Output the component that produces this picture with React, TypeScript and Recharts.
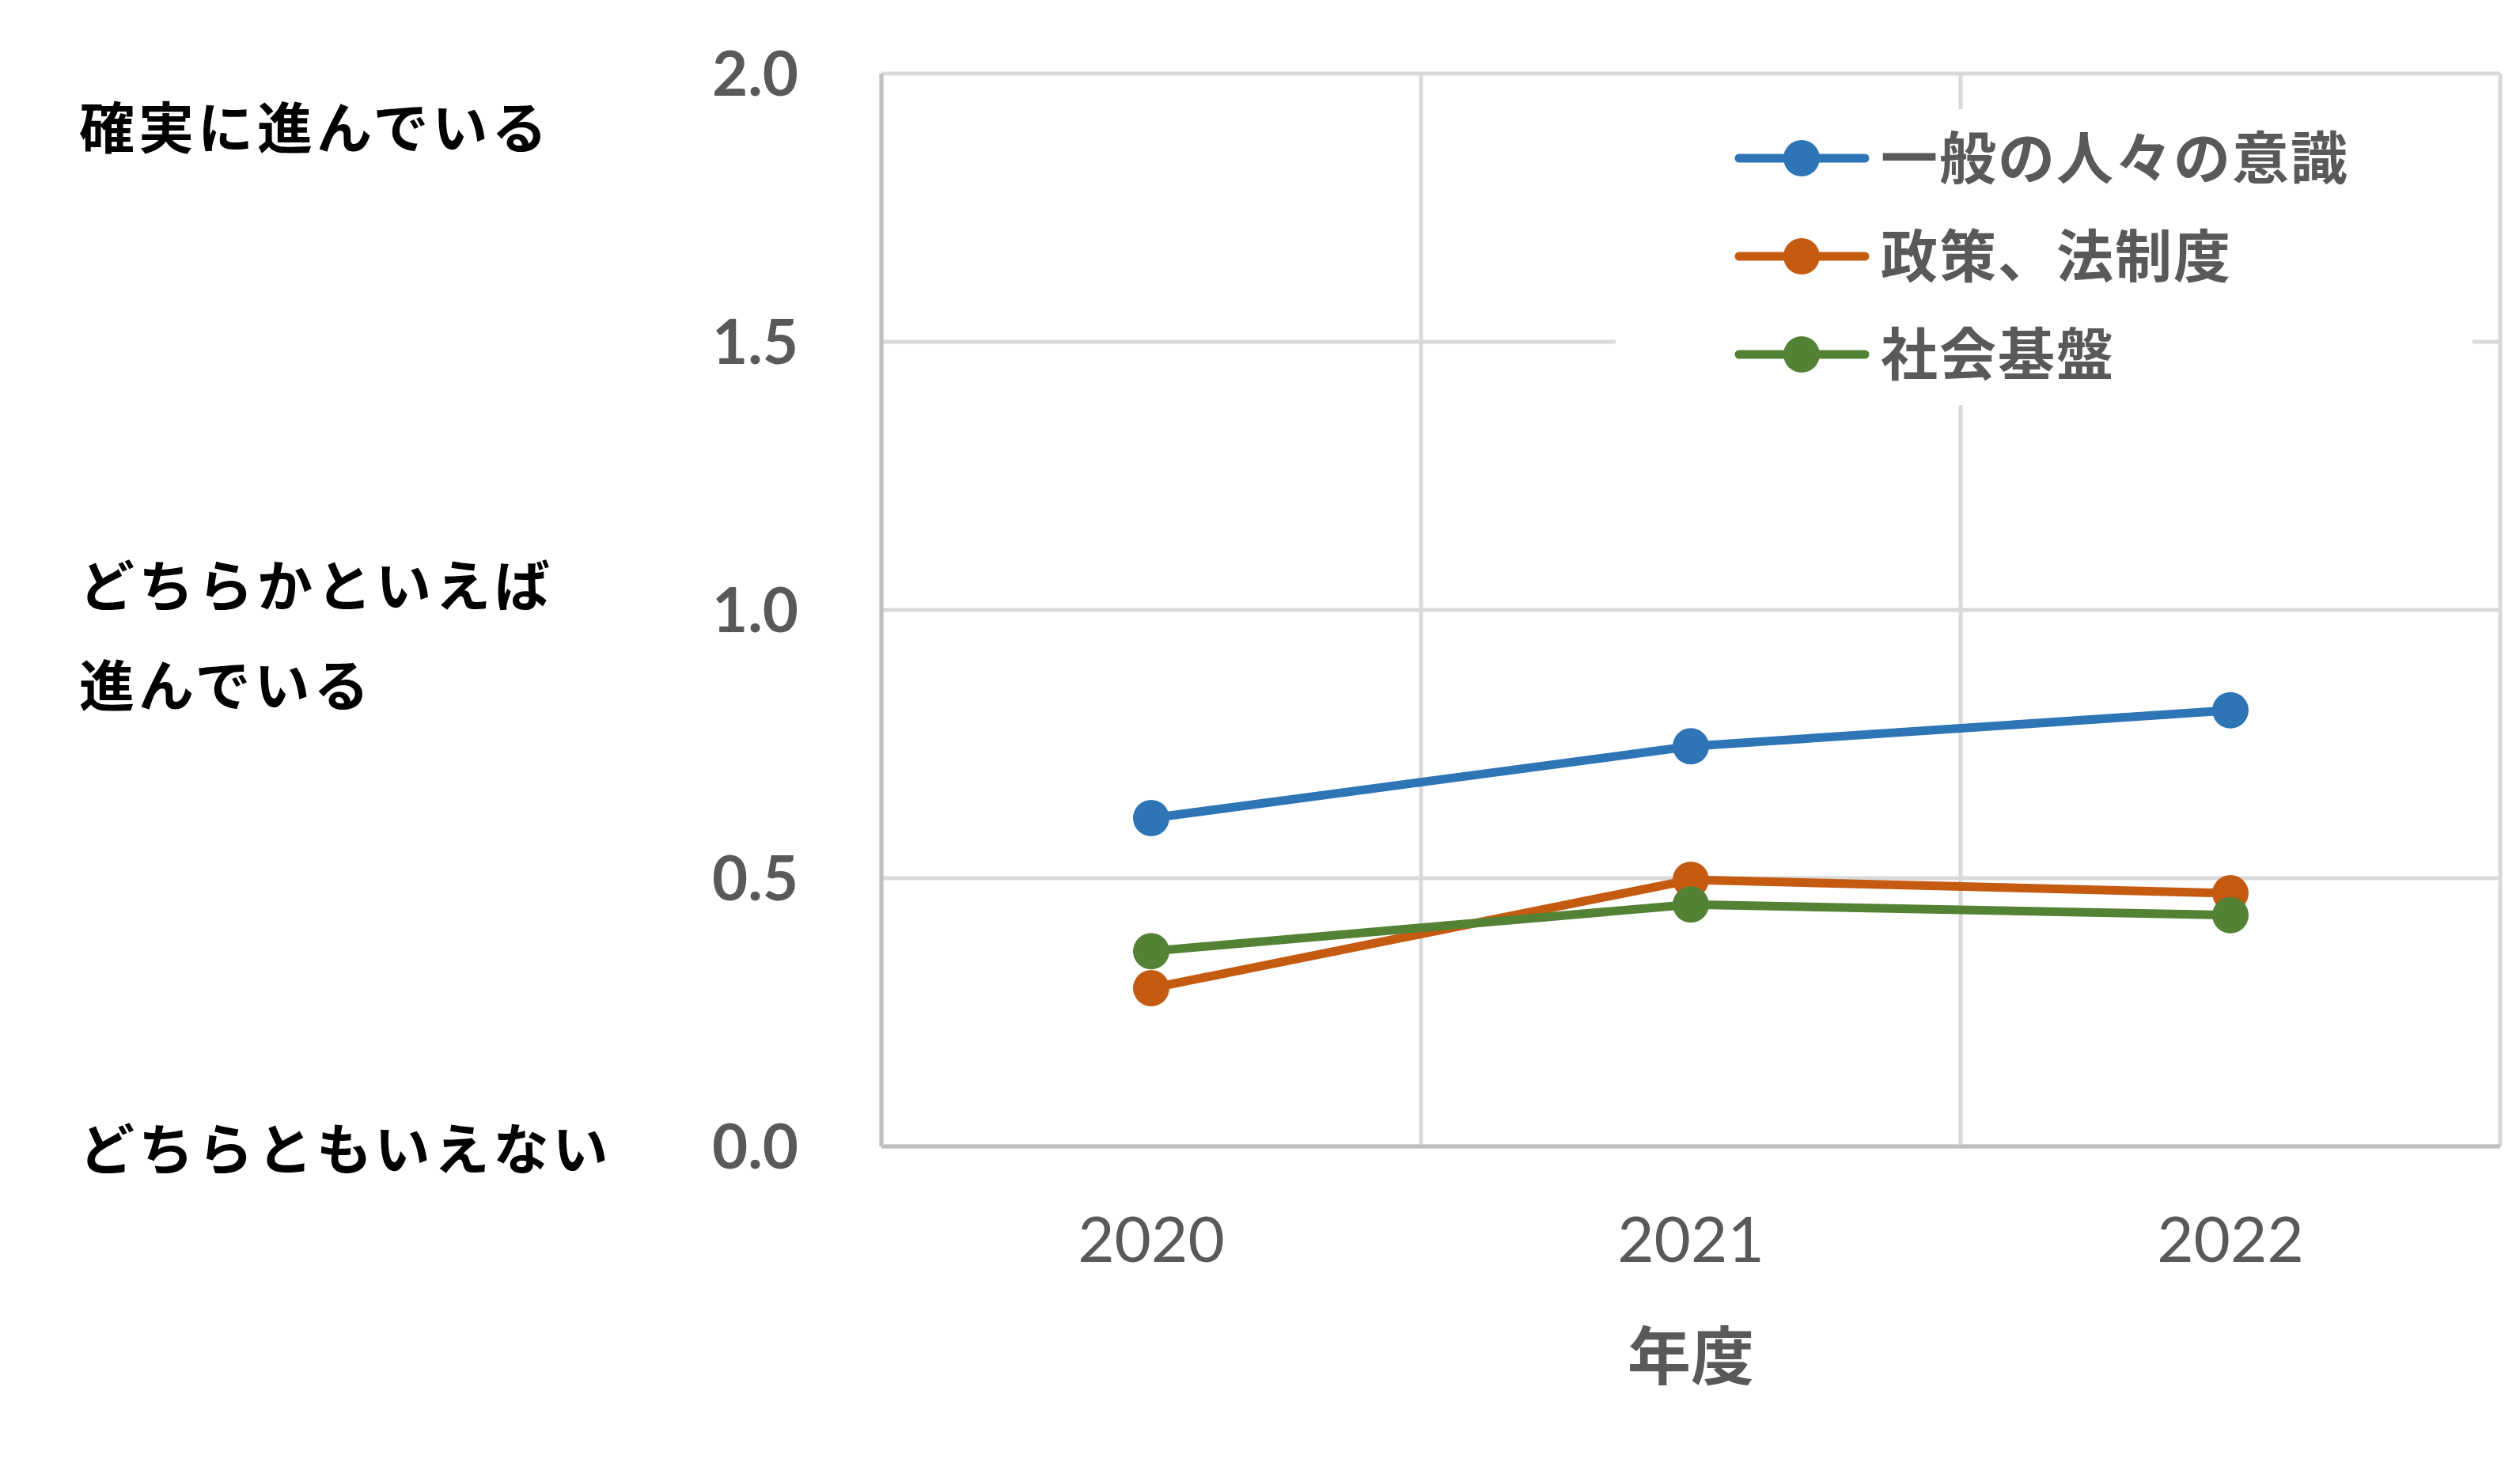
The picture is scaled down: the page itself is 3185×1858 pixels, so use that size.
import React from "react";
import {
  LineChart,
  Line,
  XAxis,
  YAxis,
  CartesianGrid,
  Legend,
} from "recharts";

const years = ["2020", "2021", "2022"];
const awareness = [0.612, 0.746, 0.813];
const policy = [0.295, 0.497, 0.472];
const infrastructure = [0.364, 0.451, 0.431];
const yTicks = [0, 0.5, 1.0, 1.5, 2.0];

const seriesNames = ["一般の人々の意識", "政策、法制度", "社会基盤"];
const seriesColors = ["#2E75B6", "#C55A11", "#548235"];

const data = years.map((year, i) => ({
  year,
  awareness: awareness[i],
  policy: policy[i],
  infrastructure: infrastructure[i],
}));

const W = 3185;
const H = 1858;
const CJK = '"Noto Sans CJK JP", "Noto Sans", sans-serif';
const LATIN = 'Lato, "Open Sans", sans-serif';

// side labels that describe the scale values
const scaleLabels = [
  { lines: ["確実に進んでいる"], top: 95 },
  { lines: ["どちらかといえば", "進んでいる"], top: 674 },
  { lines: ["どちらともいえない"], top: 1386 },
];

function LegendBox(props: any) {
  const payload = props.payload || [];
  return (
    <div
      style={{
        position: "relative",
        width: 1083,
        height: 374,
        background: "#fff",
      }}
    >
      {payload.map((entry: any, i: number) => (
        <div
          key={entry.value}
          style={{
            position: "absolute",
            left: 150,
            top: 62 + i * 124 - 50,
            height: 100,
            display: "flex",
            alignItems: "center",
            whiteSpace: "nowrap",
          }}
        >
          <svg width={171} height={100} style={{ display: "block" }}>
            <line
              x1={6}
              y1={50}
              x2={165}
              y2={50}
              stroke={entry.color}
              strokeWidth={11}
              strokeLinecap="round"
            />
            <circle cx={85} cy={50} r={23} fill={entry.color} />
          </svg>
          <span
            style={{
              marginLeft: 14,
              marginTop: -10,
              fontFamily: CJK,
              fontWeight: 700,
              fontSize: 72,
              letterSpacing: 2,
              color: "#595959",
              lineHeight: "100px",
            }}
          >
            {entry.value}
          </span>
        </div>
      ))}
    </div>
  );
}

export default function App() {
  const plotLeft = 1114;
  const plotTop = 93;
  const plotRight = 3160;
  const plotBottom = 1449;
  const yAxisWidth = 120;
  const xAxisHeight = 300;

  return (
    <div style={{ position: "relative", width: W, height: H, background: "#fff" }}>
      <style>{`body{margin:0}`}</style>
      <LineChart
        width={W}
        height={H}
        data={data}
        margin={{
          top: plotTop,
          left: plotLeft - yAxisWidth,
          right: W - plotRight,
          bottom: H - plotBottom - xAxisHeight,
        }}
      >
        <CartesianGrid
          stroke="#D9D9D9"
          strokeWidth={5}
          verticalCoordinatesGenerator={({ offset }: any) =>
            [0, 1, 2, 3].map((i) => offset.left + (i * offset.width) / 3)
          }
        />
        <XAxis
          dataKey="year"
          height={xAxisHeight}
          padding={{ left: 341, right: 341 }}
          axisLine={{ stroke: "#BFBFBF", strokeWidth: 5 }}
          tickLine={false}
          tickSize={0}
          tickMargin={89}
          tick={{ fill: "#595959", fontSize: 80, fontFamily: LATIN }}
          label={{
            value: "年度",
            position: "insideBottom",
            offset: 6,
            fill: "#595959",
            fontSize: 80,
            fontWeight: 700,
            fontFamily: CJK,
          }}
        />
        <YAxis
          width={yAxisWidth}
          domain={[0, 2]}
          ticks={yTicks}
          tickFormatter={(v: number) => v.toFixed(1)}
          axisLine={{ stroke: "#BFBFBF", strokeWidth: 5 }}
          tickLine={false}
          tickSize={0}
          tickMargin={105}
          tick={{
            fill: "#595959",
            fontSize: 78,
            fontWeight: 700,
            fontFamily: LATIN,
          }}
        />
        <Legend
          layout="vertical"
          align="center"
          verticalAlign="middle"
          content={<LegendBox />}
          wrapperStyle={{ left: 2042, top: 138, width: 1083, height: 374 }}
        />
        {["awareness", "policy", "infrastructure"].map((key, i) => (
          <Line
            key={key}
            dataKey={key}
            name={seriesNames[i]}
            stroke={seriesColors[i]}
            strokeWidth={11}
            dot={{ r: 23, fill: seriesColors[i], stroke: seriesColors[i], strokeWidth: 0 }}
            activeDot={false}
            isAnimationActive={false}
          />
        ))}
      </LineChart>
      {scaleLabels.map((lbl) => (
        <div
          key={lbl.lines[0]}
          style={{
            position: "absolute",
            left: 100,
            top: lbl.top,
            fontFamily: CJK,
            fontWeight: 700,
            fontSize: 70,
            letterSpacing: 5,
            lineHeight: "126px",
            color: "#000",
            whiteSpace: "nowrap",
          }}
        >
          {lbl.lines.map((t) => (
            <div key={t}>{t}</div>
          ))}
        </div>
      ))}
    </div>
  );
}
